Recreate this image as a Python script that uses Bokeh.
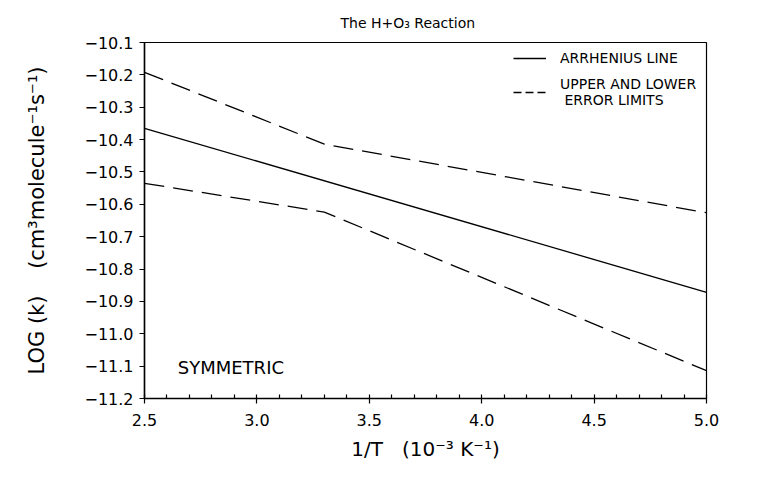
from bokeh.plotting import figure
from bokeh.models import (FixedTicker, CustomJSTickFormatter, Legend, LegendItem,
                          Label, Range1d)
from bokeh.embed import file_html
from bokeh.resources import INLINE

# ---- data ----
x_arrhenius = [2.5, 5.0]
y_arrhenius = [-10.365, -10.872]

x_limits = [2.5, 3.3, 5.0]
y_upper = [-10.192, -10.414, -10.626]
y_lower = [-10.535, -10.624, -11.114]

x_ticks = [2.5, 3.0, 3.5, 4.0, 4.5, 5.0]
x_minor = [2.6, 2.7, 2.8, 2.9, 3.1, 3.2, 3.3, 3.4, 3.6, 3.7, 3.8, 3.9,
           4.1, 4.2, 4.3, 4.4, 4.6, 4.7, 4.8, 4.9]
y_ticks = [-10.1, -10.2, -10.3, -10.4, -10.5, -10.6, -10.7, -10.8, -10.9,
           -11.0, -11.1, -11.2]

FONT = "DejaVu Sans"
NB = "\u00a0"

p = figure(width=759, height=477, output_backend="svg", toolbar_location=None,
           x_range=Range1d(2.5, 5.0), y_range=Range1d(-11.2, -10.1),
           min_border_left=144, min_border_right=53, min_border_top=42,
           min_border_bottom=79)

p.title.text = "The H+O\u2083 Reaction"
p.title.text_font = FONT
p.title.text_font_size = "14px"
p.title.text_font_style = "normal"
p.title.text_color = "black"
p.title.align = "left"
p.title.offset = 196
p.title.standoff = 23

p.grid.visible = False
p.background_fill_color = "white"
p.border_fill_color = "white"
p.outline_line_color = "black"
p.outline_line_width = 1.2

# axes
p.xaxis.ticker = FixedTicker(ticks=x_ticks, minor_ticks=x_minor)
p.yaxis.ticker = FixedTicker(ticks=y_ticks)
fmt = CustomJSTickFormatter(code="return (tick < 0 ? '\\u2212' : '') + Math.abs(tick).toFixed(1);")
p.xaxis.formatter = fmt
p.yaxis.formatter = fmt

for ax in (p.xaxis[0], p.yaxis[0]):
    ax.axis_line_color = "black"
    ax.axis_line_width = 1.5
    ax.major_tick_line_color = "black"
    ax.major_tick_line_width = 1.2
    ax.minor_tick_line_color = "black"
    ax.minor_tick_line_width = 1.2
    ax.major_label_text_font = FONT
    ax.major_label_text_color = "black"
    ax.axis_label_text_font = FONT
    ax.axis_label_text_font_style = "normal"
    ax.axis_label_text_color = "black"

p.xaxis.major_tick_in = 4
p.xaxis.major_tick_out = 5
p.xaxis.minor_tick_in = 4
p.xaxis.minor_tick_out = 0
p.xaxis.major_label_text_font_size = "16px"
p.xaxis.major_label_standoff = 10
p.xaxis.axis_label = "1/T" + NB * 3 + "(10\u207b\u00b3" + NB + "K\u207b\u00b9)"
p.xaxis.axis_label_text_font_size = "20px"
p.xaxis.axis_label_standoff = 8

p.yaxis.major_tick_in = 0
p.yaxis.major_tick_out = 5
p.yaxis.minor_tick_line_color = None
p.yaxis.major_label_text_font_size = "16px"
p.yaxis.major_label_standoff = 6
p.yaxis.axis_label = "LOG" + NB + "(k)" + NB * 4 + "(cm\u00b3molecule\u207b\u00b9s\u207b\u00b9)"
p.yaxis.axis_label_text_font_size = "21px"
p.yaxis.axis_label_standoff = 32

# lines
r_arr = p.line(x_arrhenius, y_arrhenius, line_color="black", line_width=1.3)
r_up = p.line(x_limits, y_upper, line_color="black", line_width=1.3, line_dash="20 9")
r_lo = p.line(x_limits, y_lower, line_color="black", line_width=1.3, line_dash="20 9")
# legend proxy (NaN data, draws nothing in the frame): short dashes like the reference key
nan = float("nan")
r_key = p.line([nan], [nan], line_color="black", line_width=1.3, line_dash="8 4")

legend = Legend(items=[LegendItem(label="ARRHENIUS LINE", renderers=[r_arr]),
                       LegendItem(label="UPPER AND LOWER\n ERROR LIMITS", renderers=[r_key])],
                location=(369, 290), border_line_color=None, background_fill_alpha=0,
                padding=0, margin=0, spacing=8, glyph_width=33, label_standoff=14,
                label_text_font=FONT, label_text_font_size="14px", label_height=15,
                label_text_color="black")
p.add_layout(legend, "center")

p.add_layout(Label(x=2.648, y=-11.104, text="SYMMETRIC", text_font=FONT,
                   text_font_size="18px", text_baseline="middle", text_color="black"))

open("out.html", "w").write(file_html(p, INLINE))
